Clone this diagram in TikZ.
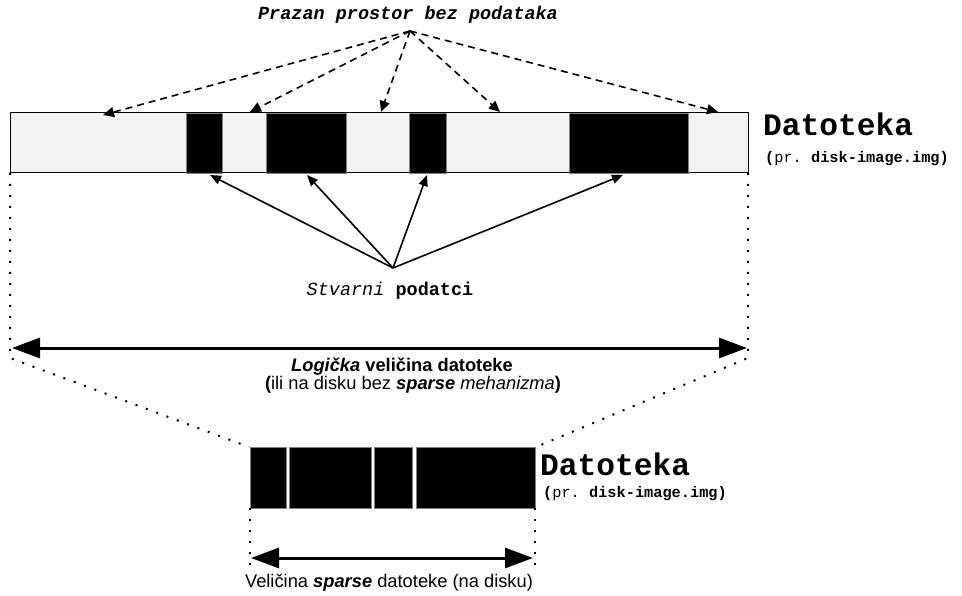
\documentclass[tikz,border=0pt]{standalone}
\usepackage{fontspec}
\setmainfont{Liberation Sans}
\setmonofont{Liberation Mono}
\usetikzlibrary{arrows.meta}
\definecolor{barfill}{HTML}{F2F2F2}
\definecolor{blkedge}{HTML}{808080}
\begin{document}
\begin{tikzpicture}[x=1pt,y=-1pt,
  gbar/.style={draw=black, fill=barfill, line width=1pt, inner sep=0pt, outer sep=0pt, anchor=north west},
  blk/.style={draw=blkedge, fill=black, line width=0.8pt, inner sep=0pt, outer sep=0pt, anchor=north west},
  dasharr/.style={line width=1.6pt, dash pattern=on 7pt off 5pt, -{Triangle[length=11pt,width=10pt]}},
  solarr/.style={line width=1.6pt, -{Triangle[length=11pt,width=9pt]}},
  bigarr/.style={line width=3pt, {Triangle[length=28pt,width=20pt]}-{Triangle[length=28pt,width=20pt]}},
  dotln/.style={line width=2pt, dash pattern=on 2pt off 9pt},
  bigmono/.style={font=\fontsize{31.25}{32}\selectfont\ttfamily\bfseries, inner sep=0pt, anchor=base west},
  submono/.style={font=\fontsize{15.3}{16}\selectfont\ttfamily, inner sep=0pt, anchor=base west},
  midmono/.style={font=\fontsize{18.5}{20}\selectfont\ttfamily, inner sep=0pt, anchor=base},
  sanslbl/.style={font=\fontsize{18.3}{20}\selectfont, inner sep=0pt, anchor=base}
]
\useasboundingbox (0,0) rectangle (962,596);
\fill[white] (0,0) rectangle (962,596);

% top bar
\node[gbar, minimum width=738pt, minimum height=60pt] (bar) at (10,113) {};
\node[blk, minimum width=36pt, minimum height=60pt] (b1) at (186,113) {};
\node[blk, minimum width=80pt, minimum height=60pt] (b2) at (266,113) {};
\node[blk, minimum width=37pt, minimum height=60pt] (b3) at (409,113) {};
\node[blk, minimum width=119pt, minimum height=60pt] (b4) at (569,113) {};

\node[bigmono] (dat1) at (763,136) {Datoteka};
\node[submono] (sub1) at (765,163) {\textbf{(}pr. \textbf{disk-image.img)}};

% empty space label and arrows
\node[midmono, font=\fontsize{18.5}{20}\selectfont\ttfamily\bfseries\itshape] (prazan) at (408,20) {Prazan prostor bez podataka};
\coordinate (dapex) at (410,31);
\coordinate (t1) at (103,115);
\coordinate (t2) at (250,112);
\coordinate (t3) at (381,112);
\coordinate (t4) at (500,112);
\coordinate (t5) at (718,112);
\foreach \t in {t1,t2,t3,t4,t5} \draw[dasharr] (dapex) -- (\t);

% real data label and arrows
\node[midmono] (stv) at (390,296) {\textit{Stvarni} \textbf{podatci}};
\coordinate (sapex) at (393,268);
\coordinate (s1) at (210,175);
\coordinate (s2) at (307,175);
\coordinate (s3) at (427,175);
\coordinate (s4) at (623,175);
\foreach \s in {s1,s2,s3,s4} \draw[solarr] (sapex) -- (\s);

% bottom bar
\node[inner sep=0pt, outer sep=0pt, anchor=north west, minimum width=287pt, minimum height=61pt] (bot) at (249,447) {};
\node[blk, minimum width=36pt, minimum height=61pt] (c1) at (250,447) {};
\node[blk, minimum width=82pt, minimum height=61pt] (c2) at (289,447) {};
\node[blk, minimum width=38pt, minimum height=61pt] (c3) at (374,447) {};
\node[blk, minimum width=119pt, minimum height=61pt] (c4) at (416,447) {};

\node[bigmono] (dat2) at (540,475) {Datoteka};
\node[submono] (sub2) at (543,497) {\textbf{(}pr. \textbf{disk-image.img)}};

% dotted guides
\coordinate (dl) at (10,358);
\coordinate (dr) at (748,358);
\draw[dotln] (bar.south west) -- (dl) -- (bot.north west);
\draw[dotln] (bar.south east) -- (dr) -- (bot.north east);
\coordinate (bl) at (250,570);
\coordinate (br) at (535,570);
\draw[dotln] (c1.south west) -- (bl);
\draw[dotln] (c4.south east) -- (br);

% logical size arrow
\coordinate (la) at (12,348);
\coordinate (lb) at (747,348);
\draw[bigarr] (la) -- (lb);
\node[sanslbl] (loglbl) at (402,371) {\textbf{\textit{Logička} veličina datoteke}};
\node[sanslbl] (loglbl2) at (413,389) {\textbf{(}ili na disku bez \textbf{\textit{sparse}} \textit{mehanizma}\textbf{)}};

% sparse size arrow
\coordinate (pa) at (251,558);
\coordinate (pb) at (533,558);
\draw[bigarr] (pa) -- (pb);
\node[sanslbl] (splbl) at (389,587) {Veličina \textbf{\textit{sparse}} datoteke (na disku)};
\end{tikzpicture}
\end{document}
